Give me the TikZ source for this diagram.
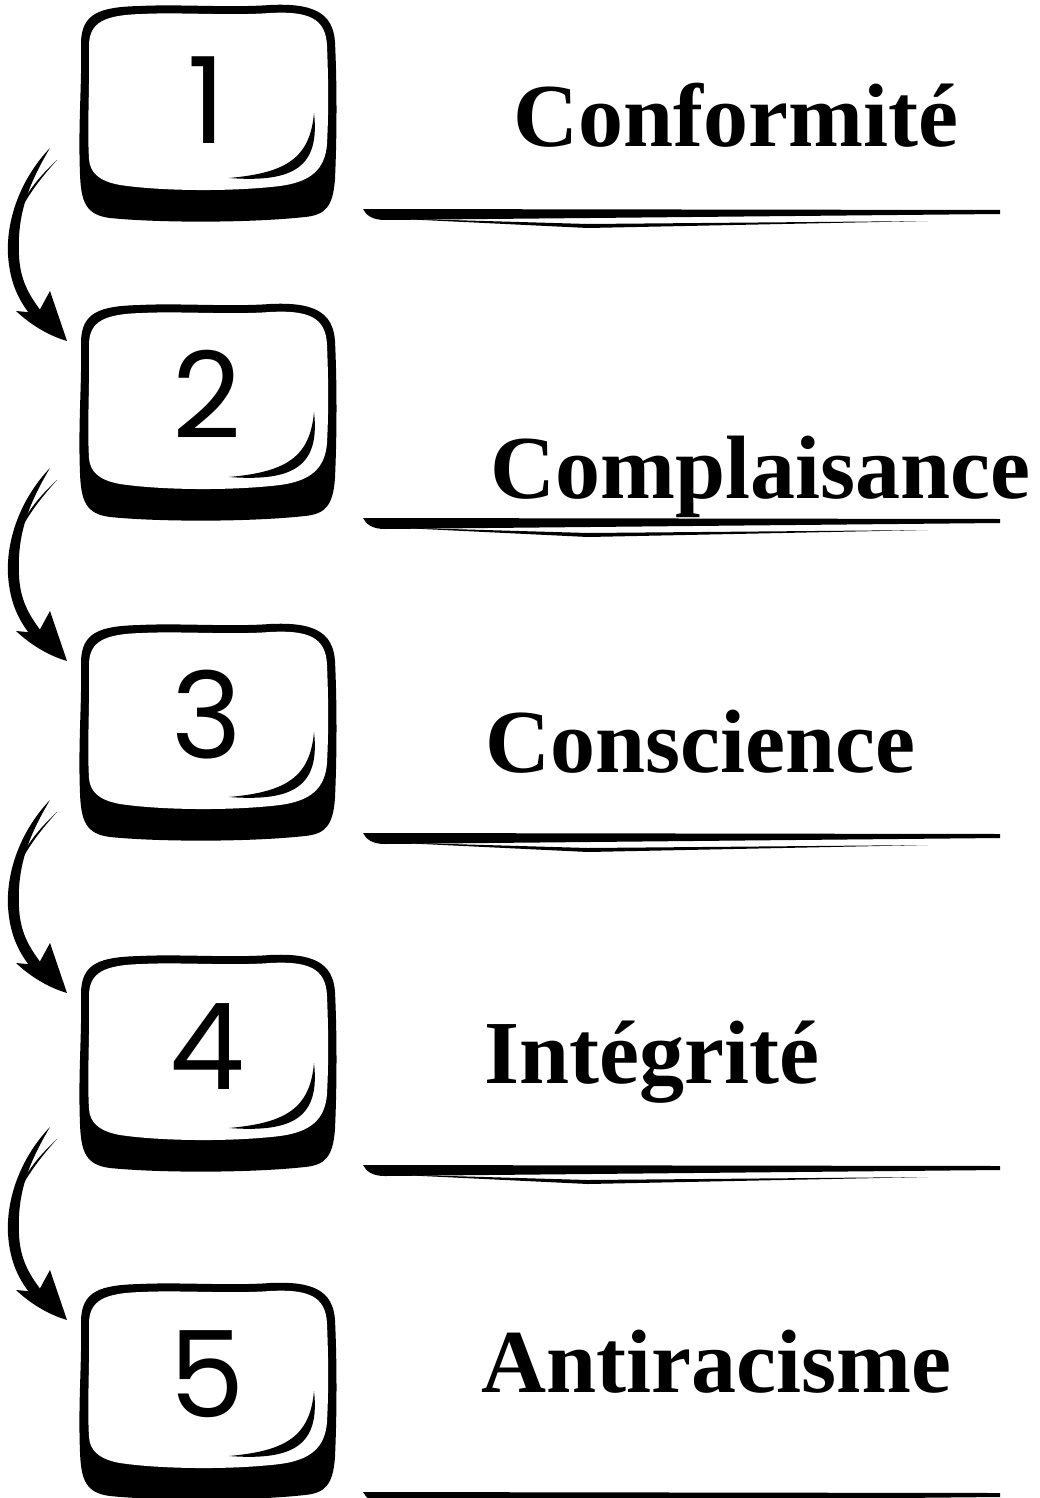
\documentclass[tikz,border=0pt]{standalone}
\usepackage{fontspec}
\setmainfont{Liberation Serif}
\newfontfamily\digitfont{Poppins}
\tikzset{
  lbl/.style={anchor=base west, inner sep=0pt, font=\fontsize{90}{100}\selectfont\bfseries},
  dig/.style={anchor=base, inner sep=0pt, font=\digitfont\fontsize{120}{130}\selectfont},
  ink/.style={fill=black, draw=none},
  paper/.style={fill=white, draw=none},
}
\newcommand{\drawkeycap}{%
  % outer black body incl. shadow
  \path[ink] (1,40) .. controls (1,9) and (20,3) .. (60,2)
    .. controls (100,0) and (150,4) .. (190,1)
    .. controls (232,-1) and (253,8) .. (255,38)
    .. controls (257,80) and (257,130) .. (255,175)
    .. controls (253,203) and (245,211) .. (225,213)
    .. controls (170,219) and (80,219) .. (30,214)
    .. controls (6,211) and (1,198) .. (0,170)
    .. controls (-2,120) and (2,80) .. (1,40) -- cycle;
  % white face
  \path[paper] (9,42) .. controls (9,18) and (25,11) .. (62,10)
    .. controls (100,8) and (150,12) .. (190,9)
    .. controls (228,7) and (246,14) .. (247,42)
    .. controls (249,90) and (248,120) .. (247,140)
    .. controls (245,166) and (230,178) .. (200,182)
    .. controls (150,188) and (80,187) .. (40,181)
    .. controls (18,177) and (10,168) .. (9,155)
    .. controls (7,120) and (10,80) .. (9,42) -- cycle;
  % highlight crescent
  \path[ink] (234,109) .. controls (240,162) and (215,179) .. (149,174)
    .. controls (205,169) and (230,155) .. (234,109) -- cycle;
}
\newcommand{\drawbend}{%
  \path[ink] (0,0) .. controls (-26,27) and (-44,67) .. (-42,107)
    .. controls (-40,137) and (-30,154) .. (-18,169)
    -- (-9,163) .. controls (-21,147) and (-30,132) .. (-31,107)
    .. controls (-33,67) and (-22,37) .. (0,0) -- cycle;
  \path[ink] (7,12) .. controls (-12,30) and (-27,47) .. (-36,75)
    .. controls (-23,47) and (-9,30) .. (7,12) -- cycle;
  \path[ink] (-34,163) .. controls (-18,178) and (0,188) .. (17,193)
    -- (0,143) -- (-12,165) -- cycle;
}
\newcommand{\drawrule}{%
  \path[ink] (0,0) -- (637,1) -- (637,5) -- (22,11)
    .. controls (9,11) and (3,6) .. (0,0) -- cycle;
  \path[ink] (18,9) -- (225,19) -- (565,12) -- (225,15) -- cycle;
}
\begin{document}
\begin{tikzpicture}[x=1pt,y=-1pt]
\useasboundingbox (0,0) rectangle (1039,1498);
% keycaps
\foreach \t/\n/\b [count=\i] in {4/1/140, 303/2/135, 623/3/135, 954/4/135, 1282/5/135}{
  \begin{scope}[shift={(80,\t)}]
    \drawkeycap
    \node[dig] (d\i) at (127,\b) {\n};
  \end{scope}
}
% arrows
\coordinate (a1) at (50,148);
\coordinate (a2) at (50,468);
\coordinate (a3) at (50,800);
\coordinate (a4) at (50,1127);
\foreach \a in {a1,a2,a3,a4}{
  \begin{scope}[shift={(\a)}]
    \drawbend
  \end{scope}
}
% rules
\foreach \y in {209,518,833,1165,1492}{
  \begin{scope}[shift={(363,\y)}]
    \drawrule
  \end{scope}
}
% labels
\node[lbl] (l1) at (513,147) {Conformité};
\node[lbl] (l2) at (490,498) {Complaisance};
\node[lbl] (l3) at (485,772) {Conscience};
\node[lbl] (l4) at (484,1083) {Intégrité};
\node[lbl] (l5) at (481,1392) {Antiracisme};
\end{tikzpicture}
\end{document}
